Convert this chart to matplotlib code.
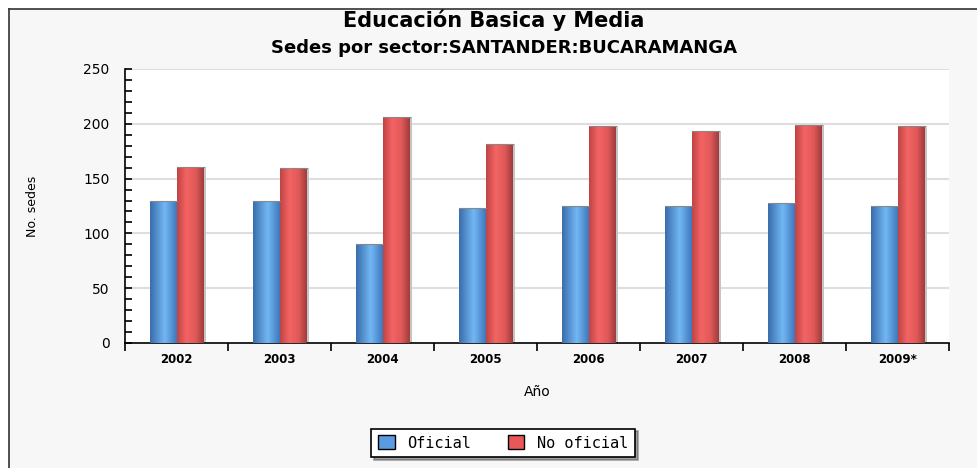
import numpy as np
import matplotlib.pyplot as plt
from matplotlib.patches import Rectangle, Patch
from matplotlib.lines import Line2D
from matplotlib.colors import LinearSegmentedColormap
from matplotlib.ticker import MultipleLocator, FixedLocator

years = ['2002', '2003', '2004', '2005', '2006', '2007', '2008', '2009*']
oficial = [130, 130, 90, 123, 125, 125, 128, 125]
no_oficial = [161, 160, 206, 182, 198, 193, 199, 198]

W, H = 977, 468
fig = plt.figure(figsize=(W / 100, H / 100), dpi=100)
fig.patch.set_facecolor('white')

# gray panel with a thin dark border on the left and top
fig.add_artist(Rectangle((9 / W, 0), 1 - 9 / W, (H - 9) / H, transform=fig.transFigure,
                         facecolor='#f7f7f7', edgecolor='none', zorder=-10))
fig.add_artist(Line2D([9 / W, 9 / W], [0, (H - 9) / H], color='#333333', lw=1.2))
fig.add_artist(Line2D([9 / W, 1], [(H - 9) / H, (H - 9) / H], color='#333333', lw=1.2))

ax = fig.add_axes([125 / W, (H - 343) / H, 824 / W, 274 / H])
ax.set_facecolor('white')

blue_cmap = LinearSegmentedColormap.from_list(
    'b', [(0, '#3a6dab'), (0.55, '#72b8f4'), (1, '#3f78bd')])
red_cmap = LinearSegmentedColormap.from_list(
    'r', [(0, '#c04444'), (0.35, '#f46464'), (0.7, '#e05858'), (1, '#a03c3c')])
grad = np.linspace(0, 1, 64).reshape(1, -1)

x = np.arange(len(years))
bw = 0.26


def draw_bars(xpos, vals, cmap):
    # shadow behind
    ax.bar(xpos + 0.018, vals, bw, color='#c4c4c4', zorder=2)
    bars = ax.bar(xpos, vals, bw, color='none', zorder=3)
    for b in bars:
        x0, w, h = b.get_x(), b.get_width(), b.get_height()
        im = ax.imshow(grad, cmap=cmap, aspect='auto', extent=[x0, x0 + w, 0, h],
                       zorder=3, interpolation='bicubic')
        im.set_clip_path(b)
        ax.plot([x0, x0 + w], [h, h], color='#888888', lw=0.8, zorder=4)


draw_bars(x - 0.125, oficial, blue_cmap)
draw_bars(x + 0.135, no_oficial, red_cmap)

ax.set_xlim(-0.5, len(years) - 0.5)
ax.set_ylim(0, 250)

for y in [50, 100, 150, 200, 250]:
    ax.axhline(y, color='#dedede', lw=1.5, zorder=1)

ax.spines['top'].set_visible(False)
ax.spines['right'].set_visible(False)
ax.spines['left'].set_linewidth(1.2)
ax.spines['bottom'].set_linewidth(1.2)

ax.yaxis.set_major_locator(MultipleLocator(50))
ax.yaxis.set_minor_locator(MultipleLocator(10))
ax.tick_params(axis='y', which='both', direction='in', length=5, width=1.2,
               labelsize=10, pad=11, colors='black')

ax.xaxis.set_major_locator(FixedLocator(np.arange(-0.5, len(years), 1.0)))
ax.set_xticklabels([])
ax.xaxis.set_minor_locator(FixedLocator(x))
ax.set_xticklabels(years, minor=True, fontsize=8.5, fontweight='bold')
ax.tick_params(axis='x', which='major', direction='out', length=6, width=1.2)
ax.tick_params(axis='x', which='minor', length=0, pad=7)

ax.set_xlabel('Año', fontsize=10, labelpad=14)
ax.set_ylabel('No. sedes', fontsize=9, labelpad=32)

fig.text(0.505, 1 - 20 / H, 'Educación Basica y Media', ha='center', va='center',
         fontsize=15, fontweight='bold')
fig.text(0.516, 1 - 48 / H, 'Sedes por sector:SANTANDER:BUCARAMANGA', ha='center',
         va='center', fontsize=13, fontweight='bold')

handles = [Patch(facecolor='#5b9be0', edgecolor='black', label='Oficial'),
           Patch(facecolor='#e85858', edgecolor='black', label='No oficial')]
leg = fig.legend(handles=handles, loc='center', bbox_to_anchor=(503 / W, 1 - 443 / H),
                 ncol=2, frameon=True, fancybox=False, shadow=True,
                 prop={'family': 'DejaVu Sans Mono', 'size': 11},
                 handlelength=1.1, handleheight=1.0, columnspacing=2.4,
                 borderpad=0.45, handletextpad=0.8, borderaxespad=0)
leg.get_frame().set_edgecolor('black')
leg.get_frame().set_linewidth(1.2)

fig.savefig('out.png', dpi=100)
